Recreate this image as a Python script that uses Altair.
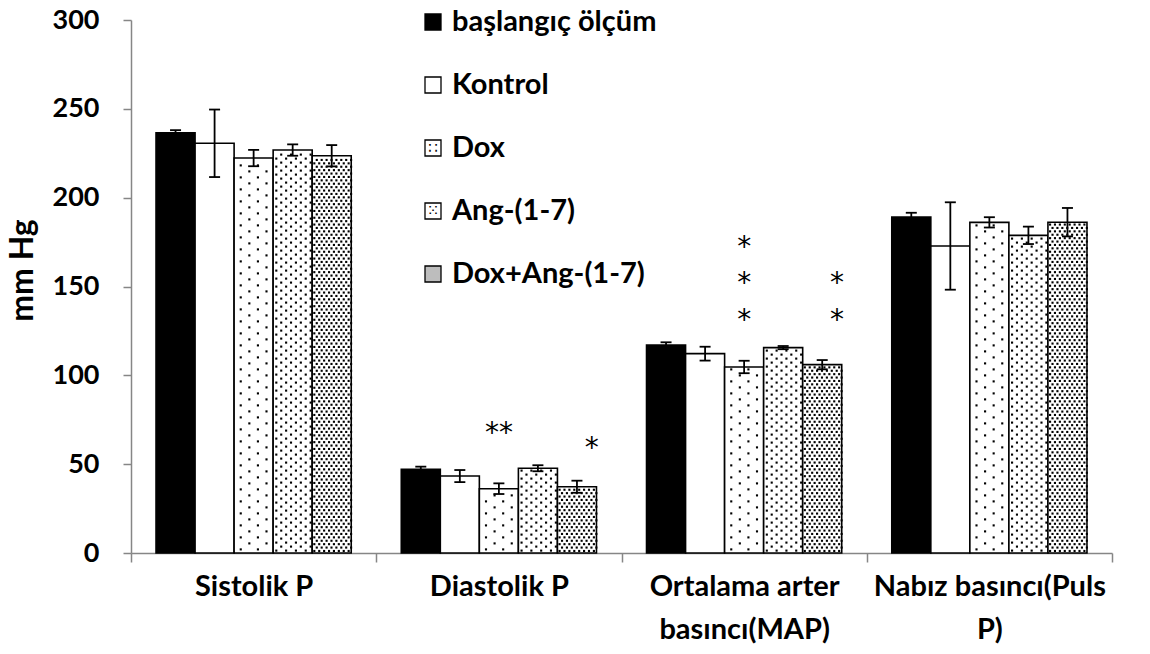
import altair as alt
import pandas as pd

# ---- data -------------------------------------------------------------
categories = ["Sistolik P", "Diastolik P", "Ortalama arter\nbasıncı(MAP)", "Nabız basıncı(Puls\nP)"]
groups = ["başlangıç ölçüm", "Kontrol", "Dox", "Ang-(1-7)", "Dox+Ang-(1-7)"]

baseline_vals = [236.5, 47.1, 117.1, 189.1]
kontrol_vals = [230.6, 43.3, 112.2, 172.8]
dox_vals = [222.3, 36.2, 104.7, 186.1]
ang_vals = [226.8, 47.7, 115.6, 178.8]
doxang_vals = [223.6, 37.3, 106.0, 186.2]

baseline_err = [1.5, 1.5, 1.5, 2.4]
kontrol_err = [19.0, 3.4, 3.9, 24.6]
dox_err = [4.6, 3.0, 3.5, 2.9]
ang_err = [3.2, 1.7, 0.9, 4.9]
doxang_err = [6.0, 3.4, 2.6, 8.0]

# significance marks (one row of asterisks per entry)
star_category = [categories[1], categories[1], categories[2], categories[2], categories[2], categories[2], categories[2]]
star_group = ["Dox", "Dox+Ang-(1-7)", "Dox", "Dox", "Dox", "Dox+Ang-(1-7)", "Dox+Ang-(1-7)"]
star_y = [70.4, 61.9, 175.2, 154.8, 134.0, 154.8, 134.0]
star_text = ["**", "*", "*", "*", "*", "*", "*"]

# small dot glyphs drawn inside the textured legend swatches
legend_glyphs = ["", "", "∷", "⁙", ""]

# ---- layout / style ---------------------------------------------------
PLOT_W, PLOT_H, Y_MAX = 981, 533, 300
LEFT, TOP = 131, 20
FONT = "Lato"
AXIS_GREY = "#868686"
PX = Y_MAX / PLOT_H          # data units per pixel on y
OUTER = 25 / 39              # outer padding of the bar group, in bar widths
K = 32                       # sub-slots per bar for the dot textures
PAD_SLOTS = int(OUTER * K)   # whole empty slots on each side of the group
PAD_FRAC = OUTER * K - PAD_SLOTS
LEGEND_TOP_PX, LEGEND_STEP_PX = 2, 63   # legend rows, measured down from the plot top

all_vals = [baseline_vals, kontrol_vals, dox_vals, ang_vals, doxang_vals]
all_errs = [baseline_err, kontrol_err, dox_err, ang_err, doxang_err]

rows = []
for gi, g in enumerate(groups):
    for ci, c in enumerate(categories):
        v, e = all_vals[gi][ci], all_errs[gi][ci]
        rows.append({"category": c, "group": g, "value": v, "lo": v - e, "hi": v + e})
bars_df = pd.DataFrame(rows)

# dot textures: (row spacing in px, slots on even rows, slots on odd rows)
textures = {
    "Dox": (6.0, [5, 19], [12, 26]),
    "Ang-(1-7)": (4.0, [2, 10, 18, 26], [6, 14, 22, 30]),
    "Dox+Ang-(1-7)": (3.4, list(range(1, 32, 4)), list(range(3, 32, 4))),
}
dots = []
for g, (row_px, even, odd) in textures.items():
    gi = groups.index(g)
    for ci, c in enumerate(categories):
        top = all_vals[gi][ci] - 2.2 * PX
        r = 0
        while (r + 0.6) * row_px * PX < top:
            y = (r + 0.6) * row_px * PX
            for s in (even if r % 2 == 0 else odd):
                dots.append({"category": c, "slot": f"{g}|{s:02d}", "y": y})
            r += 1
dots_df = pd.DataFrame(dots)
slot_domain = ([f"_l{i:02d}" for i in range(PAD_SLOTS)]
               + [f"{g}|{s:02d}" for g in groups for s in range(K)]
               + [f"_r{i:02d}" for i in range(PAD_SLOTS)])

stars_df = pd.DataFrame({"category": star_category, "group": star_group,
                         "y": star_y, "text": star_text})
legend_df = pd.DataFrame({
    "label": groups,
    "glyph": legend_glyphs,
    "ypos": [Y_MAX - (LEGEND_TOP_PX + i * LEGEND_STEP_PX) * PX for i in range(len(groups))],
})

# ---- encodings --------------------------------------------------------
x_enc = alt.X(
    "category:N",
    sort=categories,
    scale=alt.Scale(domain=categories, paddingInner=0, paddingOuter=0),
    axis=alt.Axis(
        title=None, labelAngle=0, tickBand="extent", tickSize=9,
        domainColor=AXIS_GREY, tickColor=AXIS_GREY, domainWidth=1.5, tickWidth=1.5,
        labelFont=FONT, labelFontSize=29, labelFontWeight="bold", labelColor="black",
        labelPadding=10, labelLineHeight=43, labelLimit=0,
        labelExpr="split(datum.label, '\\n')",
    ),
)
y_scale = alt.Scale(domain=[0, Y_MAX], nice=False, zero=True)
y_axis = alt.Axis(
    title="mm Hg", values=list(range(0, 301, 50)), grid=False, tickSize=8,
    domainColor=AXIS_GREY, tickColor=AXIS_GREY, domainWidth=1.5, tickWidth=1.5,
    labelFont=FONT, labelFontSize=27, labelFontWeight="bold", labelColor="black",
    labelPadding=24, titleFont=FONT, titleFontSize=32, titleFontWeight="bold",
    titleColor="black", titlePadding=13, titleY=250,
)
off_enc = alt.XOffset("group:N", sort=groups,
                      scale=alt.Scale(domain=groups, paddingInner=0, paddingOuter=OUTER))


def y_of(field):
    return alt.Y(field, scale=y_scale, axis=y_axis)


# plain white edges along the top and right of the plot area (open frame)
edge_top = alt.Chart(legend_df).mark_rule(color="white", strokeWidth=4).encode(
    x=alt.value(2), x2=alt.value(PLOT_W + 3), y=alt.value(0),
)
edge_right = alt.Chart(legend_df).mark_rule(color="white", strokeWidth=4).encode(
    x=alt.value(PLOT_W + 1), y=alt.value(-3), y2=alt.value(PLOT_H - 1),
)

bars = alt.Chart(bars_df).mark_bar(stroke="black", strokeWidth=1.6).encode(
    x=x_enc,
    xOffset=off_enc,
    y=y_of("value:Q"),
    fill=alt.Fill("group:N", scale=alt.Scale(domain=groups,
                  range=["black", "white", "white", "white", "white"]), legend=None),
)

dots_layer = alt.Chart(dots_df).mark_square(size=4.5, color="black", opacity=1).encode(
    x=x_enc,
    xOffset=alt.XOffset("slot:N", sort=slot_domain,
                        scale=alt.Scale(domain=slot_domain, paddingInner=0, paddingOuter=PAD_FRAC)),
    y=y_of("y:Q"),
)

err_rule = alt.Chart(bars_df).mark_rule(color="black", strokeWidth=1.8).encode(
    x=x_enc, xOffset=off_enc, y=y_of("lo:Q"), y2="hi:Q",
)
cap_lo = alt.Chart(bars_df).mark_tick(color="black", thickness=1.8, size=11, opacity=1).encode(
    x=x_enc, xOffset=off_enc, y=y_of("lo:Q"),
)
cap_hi = alt.Chart(bars_df).mark_tick(color="black", thickness=1.8, size=11, opacity=1).encode(
    x=x_enc, xOffset=off_enc, y=y_of("hi:Q"),
)

stars = alt.Chart(stars_df).mark_text(font="DejaVu Sans", fontSize=28, baseline="alphabetic",
                                      dy=14, fill="black").encode(
    x=x_enc, xOffset=off_enc, y=y_of("y:Q"), text="text:N",
)

# legend rows placed inside the plot area, near the top centre
legend_boxes = alt.Chart(legend_df).mark_square(size=256, stroke="black", strokeWidth=1.3,
                                                opacity=1).encode(
    x=alt.value(433 - LEFT),
    y=y_of("ypos:Q"),
    fill=alt.Fill("label:N", scale=alt.Scale(domain=groups,
                  range=["black", "white", "white", "white", "#bdbdbd"]), legend=None),
)
legend_dots = alt.Chart(legend_df).mark_text(font="DejaVu Sans", fontSize=15,
                                             baseline="middle", align="center",
                                             fill="black").encode(
    x=alt.value(433 - LEFT), y=y_of("ypos:Q"), text="glyph:N",
)
legend_text = alt.Chart(legend_df).mark_text(font=FONT, fontSize=29, fontWeight="bold",
                                             align="left", baseline="middle",
                                             fill="black").encode(
    x=alt.value(452 - LEFT), y=y_of("ypos:Q"), text="label:N",
)

chart = alt.layer(
    edge_top, edge_right, bars, dots_layer, err_rule, cap_lo, cap_hi, stars,
    legend_boxes, legend_dots, legend_text
).resolve_scale(
    xOffset="independent", fill="independent"
).properties(
    width=PLOT_W, height=PLOT_H,
    padding={"left": LEFT, "top": TOP, "right": 38, "bottom": 101},
    autosize=alt.AutoSizeParams(type="none"),
    view=alt.ViewBackground(stroke="transparent", strokeWidth=0),
).configure(
    background="white",
    view=alt.ViewConfig(stroke="transparent", strokeWidth=0),
    style={"cell": {"stroke": "transparent", "strokeWidth": 0}},
)

chart.save("out.html", embed_options={"renderer": "svg", "actions": False})
